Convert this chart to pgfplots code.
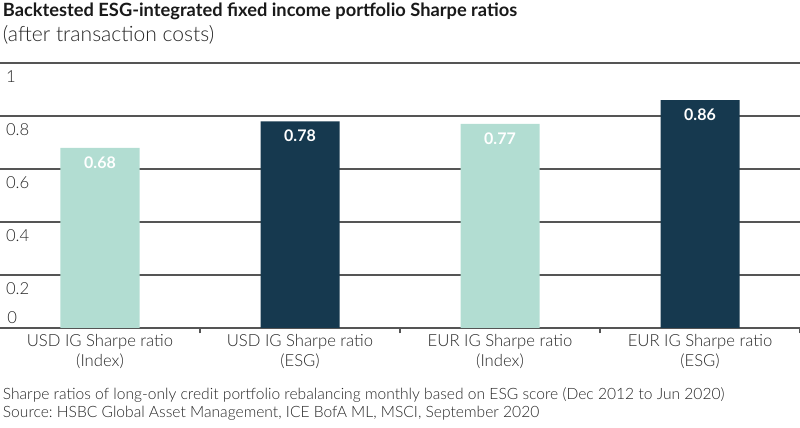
\documentclass[border=0pt]{standalone}
\usepackage{pgfplots}
\pgfplotsset{compat=1.18}
\usepackage{fontspec}
\setmainfont{Lato}[UprightFont=* Light, BoldFont=* Bold]
\frenchspacing
\definecolor{mint}{RGB}{178,221,210}
\definecolor{navy}{RGB}{22,57,79}
\definecolor{gridc}{RGB}{85,85,85}
\begin{document}
\begin{tikzpicture}
\useasboundingbox (0,-75pt) rectangle (600pt,246pt);
\begin{axis}[
  at={(0,0)}, anchor=south west,
  scale only axis, width=600pt, height=198.75pt,
  xmin=-0.5, xmax=3.5, ymin=0, ymax=1,
  ybar, bar width=59.25pt, bar shift=0pt,
  /pgf/number format/assume math mode=true,
  ytick={0.2,0.4,0.6,0.8,1},
  yticklabels={0.2,0.4,0.6,0.8,1},
  extra y ticks={0},
  extra y tick labels={0},
  extra y tick style={grid=none, yticklabel style={anchor=south west, xshift=1pt, yshift=2pt}},
  yticklabel style={anchor=north west, xshift=1pt, yshift=-2pt, font=\fontsize{12.5pt}{14pt}\selectfont, text=black!85},
  ymajorgrids, grid style={gridc, line width=0.8pt},
  major tick length=0pt,
  xtick={0,1,2,3},
  xticklabels={{USD IG Sharpe ratio\\(Index)},{USD IG Sharpe ratio\\(ESG)},{EUR IG Sharpe ratio\\(Index)},{EUR IG Sharpe ratio\\(ESG)}},
  xticklabel style={align=center, font=\fontsize{12.5pt}{15pt}\selectfont, text=black!85, yshift=-1pt},
  extra x ticks={0.5,1.5,2.5,3.5},
  extra x tick labels={},
  extra x tick style={major tick length=4pt, tick style={gridc, line width=0.8pt}, xtick pos=bottom},
  axis x line*=bottom,
  axis y line*=left,
  x axis line style={gridc, line width=0.8pt, -},
  y axis line style={draw=none},
  nodes near coords={\pgfmathprintnumber[fixed, precision=2, fixed zerofill, assume math mode=true]{\pgfplotspointmeta}},
  every node near coord/.append style={anchor=north, yshift=-3pt, text=white, font=\bfseries\fontsize{12pt}{13pt}\selectfont},
  clip=false,
]
\addplot[fill=mint, draw=none] coordinates {(0,0.68) (2,0.77)};
\addplot[fill=navy, draw=none] coordinates {(1,0.78) (3,0.86)};
\end{axis}
\node[anchor=base west, inner sep=0pt, font=\bfseries\fontsize{13.7pt}{16pt}\selectfont, text=black!90] at (2pt,233.5pt) {Backtested ESG-integrated fixed income portfolio Sharpe ratios};
\node[anchor=base west, inner sep=0pt, font=\fontsize{15.8pt}{18pt}\selectfont, text=black!85] at (2pt,214.5pt) {(after transaction costs)};
\node[anchor=base west, inner sep=0pt, font=\fontsize{11.7pt}{13pt}\selectfont, text=black!85] at (2pt,-54pt) {Sharpe ratios of long-only credit portfolio rebalancing monthly based on ESG score (Dec 2012 to Jun 2020)};
\node[anchor=base west, inner sep=0pt, font=\fontsize{11.7pt}{13pt}\selectfont, text=black!85] at (2pt,-67.5pt) {Source: HSBC Global Asset Management, ICE BofA ML, MSCI, September 2020};
\end{tikzpicture}
\end{document}
